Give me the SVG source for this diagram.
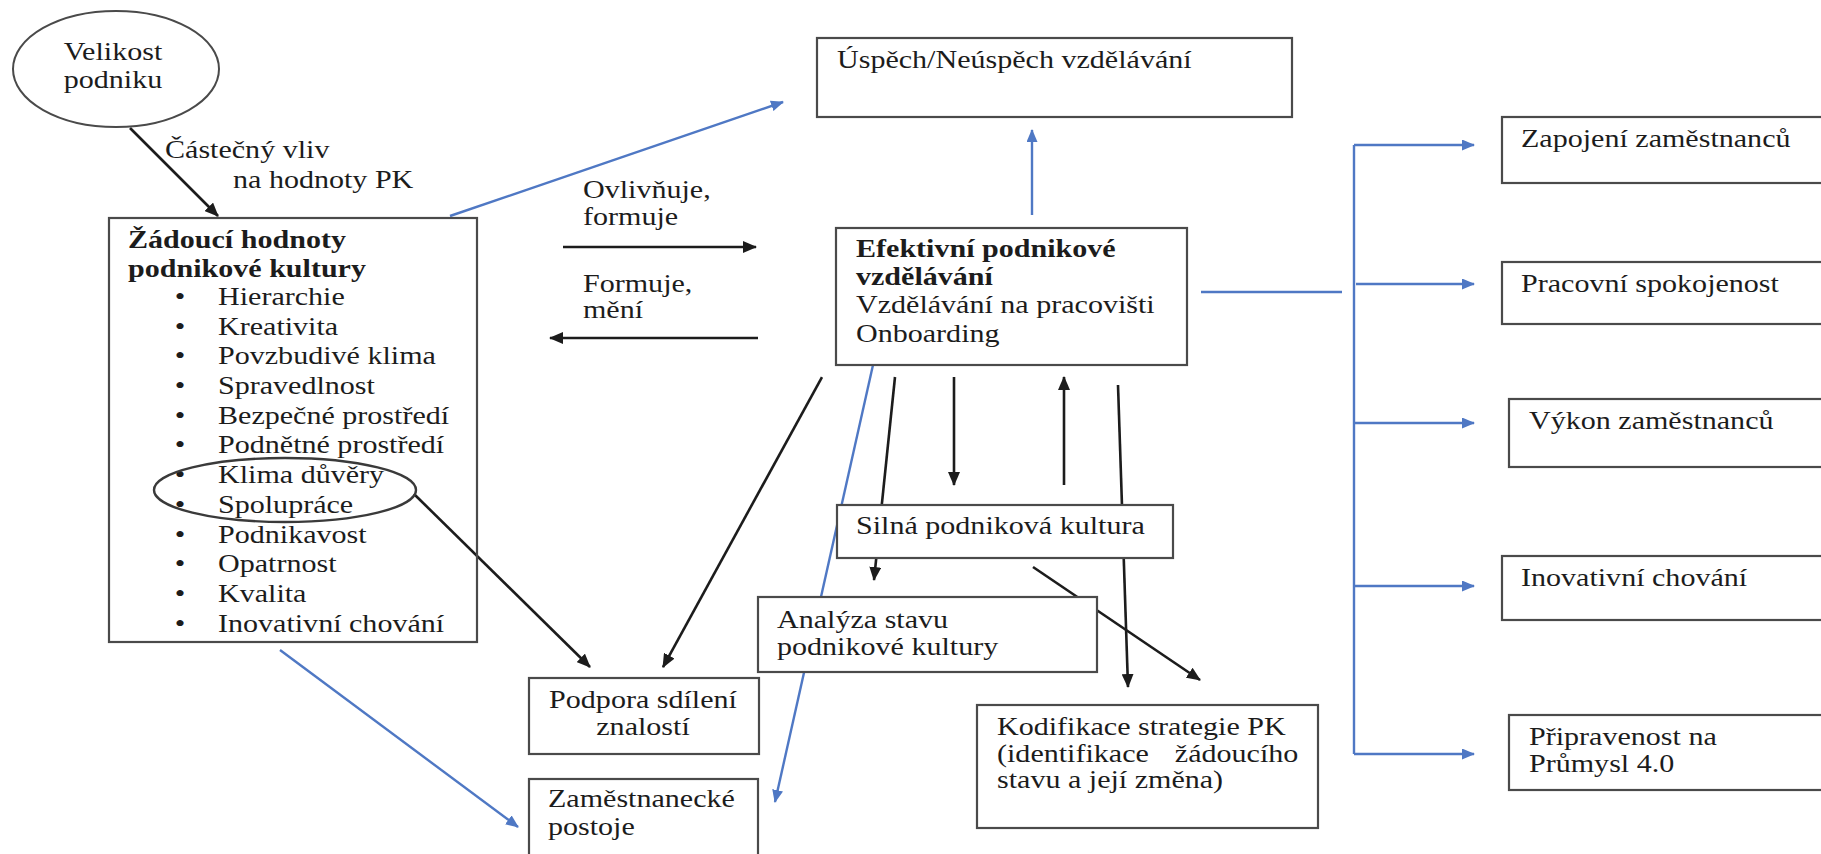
<svg xmlns="http://www.w3.org/2000/svg" width="1821" height="854" viewBox="0 0 1821 854">
<style>
.t{font-family:"Liberation Serif","Times New Roman",serif;font-size:25.7px;fill:#1c1c1c}
.b{font-weight:bold}
.box{fill:#fff;stroke:#4a4a4a;stroke-width:2.2}
.k{stroke:#1c1c1c;stroke-width:2.6;fill:none}
.bl{stroke:#4f78c4;stroke-width:2.4;fill:none}
</style>
<defs>
<marker id="ak" markerUnits="userSpaceOnUse" markerWidth="14" markerHeight="12" refX="13" refY="6" orient="auto"><path d="M0,0 L14,6 L0,12 z" fill="#1c1c1c"/></marker>
<marker id="ab" markerUnits="userSpaceOnUse" markerWidth="13" markerHeight="11" refX="12" refY="5.5" orient="auto"><path d="M0,0 L13,5.5 L0,11 z" fill="#4f78c4"/></marker>
</defs>
<rect width="1821" height="854" fill="#fff"/>
<g id="connectors">
<line class="k" x1="130" y1="128" x2="218" y2="216" marker-end="url(#ak)"/>
<line class="bl" x1="450" y1="216" x2="783" y2="102" marker-end="url(#ab)"/>
<line class="k" x1="563" y1="247" x2="756" y2="247" marker-end="url(#ak)"/>
<line class="k" x1="758" y1="338" x2="550" y2="338" marker-end="url(#ak)"/>
<line class="bl" x1="1032" y1="215" x2="1032" y2="130" marker-end="url(#ab)"/>
<line class="k" x1="414" y1="494" x2="590" y2="667" marker-end="url(#ak)"/>
<line class="k" x1="822" y1="377" x2="663" y2="667" marker-end="url(#ak)"/>
<line class="bl" x1="873" y1="365" x2="775" y2="802" marker-end="url(#ab)"/>
<line class="k" x1="895" y1="377" x2="874" y2="580" marker-end="url(#ak)"/>
<line class="k" x1="954" y1="377" x2="954" y2="485" marker-end="url(#ak)"/>
<line class="k" x1="1064" y1="485" x2="1064" y2="377" marker-end="url(#ak)"/>
<line class="k" x1="1118" y1="385" x2="1128" y2="687" marker-end="url(#ak)"/>
<line class="k" x1="1033" y1="567" x2="1200" y2="680" marker-end="url(#ak)"/>
<line class="bl" x1="280" y1="650" x2="518" y2="827" marker-end="url(#ab)"/>
<line class="bl" x1="1201" y1="292" x2="1342" y2="292"/>
<line class="bl" x1="1354" y1="145" x2="1354" y2="754"/>
<line class="bl" x1="1354" y1="145" x2="1474" y2="145" marker-end="url(#ab)"/>
<line class="bl" x1="1356" y1="284" x2="1474" y2="284" marker-end="url(#ab)"/>
<line class="bl" x1="1354" y1="423" x2="1474" y2="423" marker-end="url(#ab)"/>
<line class="bl" x1="1354" y1="586" x2="1474" y2="586" marker-end="url(#ab)"/>
<line class="bl" x1="1354" y1="754" x2="1474" y2="754" marker-end="url(#ab)"/>
</g>
<g id="velikost">
<ellipse cx="116" cy="69" rx="103" ry="58" fill="#fff" stroke="#4a4a4a" stroke-width="2"/>
<text class="t" text-anchor="middle" transform="translate(113 60) scale(1.17 1)"><tspan x="0" y="0">Velikost</tspan><tspan x="0" y="28">podniku</tspan></text>
</g>
<g id="label-castecny">
<text class="t" transform="translate(165 158) scale(1.17 1)">Částečný vliv</text>
<text class="t" transform="translate(233 188) scale(1.17 1)">na hodnoty PK</text>
</g>
<g id="zadouci">
<rect class="box" x="109" y="218" width="368" height="424" fill="none" style="fill:none"/>
<text class="t b" transform="translate(128 248) scale(1.17 1)"><tspan x="0" y="0">Žádoucí hodnoty</tspan><tspan x="0" y="29">podnikové kultury</tspan></text>
<text class="t" transform="translate(180 305) scale(1.17 1)" text-anchor="middle"><tspan x="0" y="0">•</tspan><tspan x="0" y="29.7">•</tspan><tspan x="0" y="59.4">•</tspan><tspan x="0" y="89.1">•</tspan><tspan x="0" y="118.8">•</tspan><tspan x="0" y="148.5">•</tspan><tspan x="0" y="178.2">•</tspan><tspan x="0" y="207.9">•</tspan><tspan x="0" y="237.6">•</tspan><tspan x="0" y="267.3">•</tspan><tspan x="0" y="297">•</tspan><tspan x="0" y="326.7">•</tspan></text>
<text class="t" transform="translate(218 305) scale(1.17 1)"><tspan x="0" y="0">Hierarchie</tspan><tspan x="0" y="29.7">Kreativita</tspan><tspan x="0" y="59.4">Povzbudivé klima</tspan><tspan x="0" y="89.1">Spravedlnost</tspan><tspan x="0" y="118.8">Bezpečné prostředí</tspan><tspan x="0" y="148.5">Podnětné prostředí</tspan><tspan x="0" y="178.2">Klima důvěry</tspan><tspan x="0" y="207.9">Spolupráce</tspan><tspan x="0" y="237.6">Podnikavost</tspan><tspan x="0" y="267.3">Opatrnost</tspan><tspan x="0" y="297">Kvalita</tspan><tspan x="0" y="326.7">Inovativní chování</tspan></text>
<ellipse cx="285" cy="490" rx="131" ry="32" fill="none" stroke="#3a3a3a" stroke-width="2.4"/>
</g>
<g id="uspech">
<rect class="box" x="817" y="38" width="475" height="79"/>
<text class="t" transform="translate(837 68) scale(1.17 1)">Úspěch/Neúspěch vzdělávání</text>
</g>
<g id="label-ovlivnuje">
<text class="t" transform="translate(583 198) scale(1.17 1)"><tspan x="0" y="0">Ovlivňuje,</tspan><tspan x="0" y="27.5">formuje</tspan></text>
</g>
<g id="label-formuje">
<text class="t" transform="translate(583 292) scale(1.17 1)"><tspan x="0" y="0">Formuje,</tspan><tspan x="0" y="26">mění</tspan></text>
</g>
<g id="efektivni">
<rect class="box" x="836" y="228" width="351" height="137"/>
<text class="t" transform="translate(856 257) scale(1.17 1)"><tspan x="0" y="0" class="b">Efektivní podnikové</tspan><tspan x="0" y="28" class="b">vzdělávání</tspan><tspan x="0" y="56">Vzdělávání na pracovišti</tspan><tspan x="0" y="85">Onboarding</tspan></text>
</g>
<g id="silna">
<rect class="box" x="837" y="505" width="336" height="53"/>
<text class="t" transform="translate(856 534) scale(1.17 1)">Silná podniková kultura</text>
</g>
<g id="analyza">
<rect class="box" x="758" y="597" width="339" height="75"/>
<text class="t" transform="translate(777 628) scale(1.17 1)"><tspan x="0" y="0">Analýza stavu</tspan><tspan x="0" y="27">podnikové kultury</tspan></text>
</g>
<g id="podpora">
<rect class="box" x="529" y="678" width="230" height="76"/>
<text class="t" text-anchor="middle" transform="translate(643 708) scale(1.17 1)"><tspan x="0" y="0">Podpora sdílení</tspan><tspan x="0" y="27">znalostí</tspan></text>
</g>
<g id="zamestnanecke">
<rect class="box" x="529" y="779" width="229" height="90"/>
<text class="t" transform="translate(548 807) scale(1.17 1)"><tspan x="0" y="0">Zaměstnanecké</tspan><tspan x="0" y="28">postoje</tspan></text>
</g>
<g id="kodifikace">
<rect class="box" x="977" y="705" width="341" height="123"/>
<text class="t" transform="translate(997 735) scale(1.17 1)"><tspan x="0" y="0">Kodifikace strategie PK</tspan><tspan x="0" y="27">(identifikace</tspan><tspan x="152" y="27">žádoucího</tspan><tspan x="0" y="53">stavu a její změna)</tspan></text>
</g>
<g id="zapojeni">
<rect class="box" x="1502" y="117" width="340" height="66"/>
<text class="t" transform="translate(1521 147) scale(1.17 1)">Zapojení zaměstnanců</text>
</g>
<g id="pracovni">
<rect class="box" x="1502" y="262" width="340" height="62"/>
<text class="t" transform="translate(1521 292) scale(1.17 1)">Pracovní spokojenost</text>
</g>
<g id="vykon">
<rect class="box" x="1509" y="399" width="340" height="68"/>
<text class="t" transform="translate(1529 429) scale(1.17 1)">Výkon zaměstnanců</text>
</g>
<g id="inovativni">
<rect class="box" x="1502" y="556" width="340" height="64"/>
<text class="t" transform="translate(1521 586) scale(1.17 1)">Inovativní chování</text>
</g>
<g id="pripravenost">
<rect class="box" x="1509" y="715" width="340" height="75"/>
<text class="t" transform="translate(1529 745) scale(1.17 1)"><tspan x="0" y="0">Připravenost na</tspan><tspan x="0" y="27">Průmysl 4.0</tspan></text>
</g>
</svg>
